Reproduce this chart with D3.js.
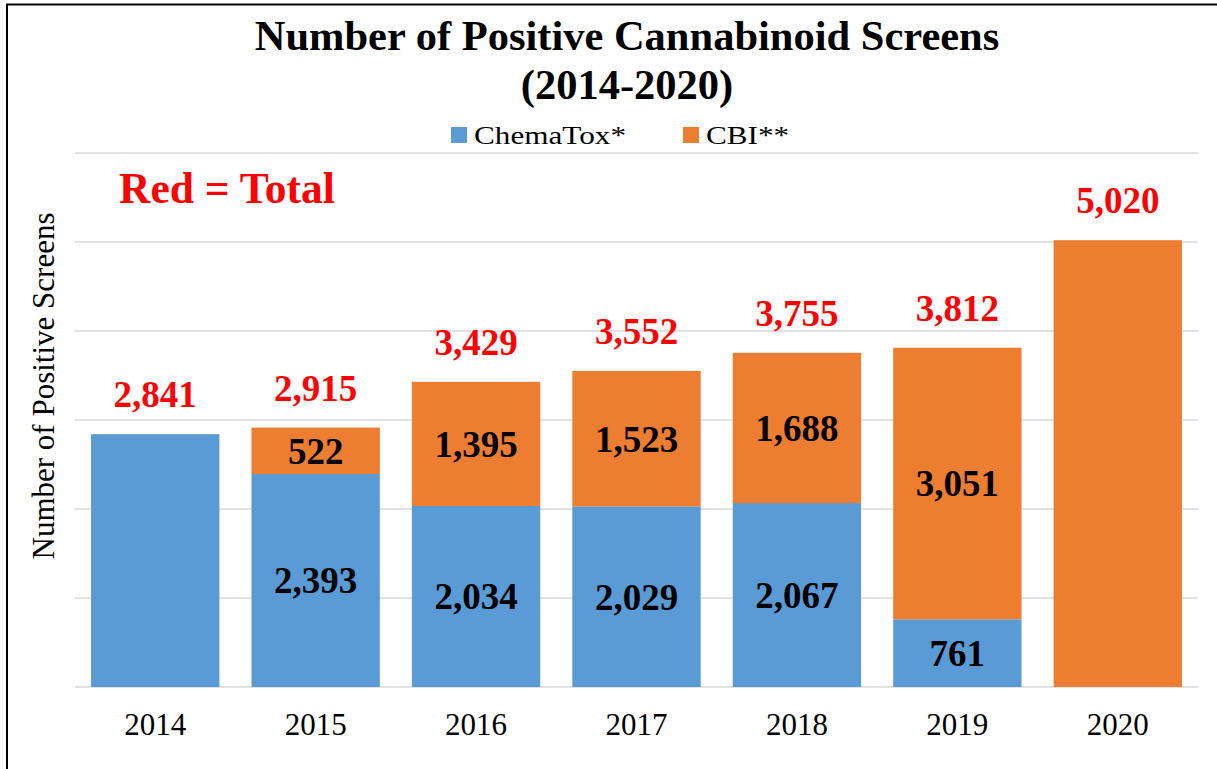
<!DOCTYPE html>
<html>
<head>
<meta charset="utf-8">
<script src="https://cdn.jsdelivr.net/npm/d3@7"></script>
<style>
  body { margin: 0; background: #fff; }
  svg text { font-family: "Liberation Serif", "Times New Roman", serif; }
</style>
</head>
<body>
<div id="chart"></div>
<script>
// Chart values
const years = ["2014", "2015", "2016", "2017", "2018", "2019", "2020"];
const chemaTox = [2841, 2393, 2034, 2029, 2067, 761, 0];
const cbi = [0, 522, 1395, 1523, 1688, 3051, 5020];
const totals = [2841, 2915, 3429, 3552, 3755, 3812, 5020];
const seriesNames = ["ChemaTox*", "CBI**"];
const yTicks = [0, 1000, 2000, 3000, 4000, 5000, 6000];

const width = 1217, height = 769;
const plot = { left: 75, right: 1198, top: 153, bottom: 687 };
const colors = ["#5B9BD5", "#ED7D31"];

const svg = d3.select("#chart").append("svg")
  .attr("width", width)
  .attr("height", height);

// outer frame (top + left only, like the cropped original)
svg.append("line").attr("x1", 6).attr("x2", width).attr("y1", 4.5).attr("y2", 4.5)
  .attr("stroke", "#000").attr("stroke-width", 2);
svg.append("line").attr("x1", 7).attr("x2", 7).attr("y1", 4).attr("y2", height)
  .attr("stroke", "#000").attr("stroke-width", 2);

const x = d3.scaleBand()
  .domain(years)
  .range([plot.left, plot.right])
  .paddingInner(0.2)
  .paddingOuter(0.1);

const y = d3.scaleLinear()
  .domain([0, 6000])
  .range([plot.bottom, plot.top]);

// gridlines
svg.append("g")
  .selectAll("line")
  .data(yTicks)
  .join("line")
  .attr("x1", plot.left)
  .attr("x2", plot.right)
  .attr("y1", d => y(d))
  .attr("y2", d => y(d))
  .attr("stroke", "#d9d9d9")
  .attr("stroke-width", 1.5);

// stacked data
const rows = years.map((yr, i) => ({ year: yr, chemaTox: chemaTox[i], cbi: cbi[i] }));
const stack = d3.stack().keys(["chemaTox", "cbi"]);
const layers = stack(rows);

const layerG = svg.append("g")
  .selectAll("g")
  .data(layers)
  .join("g")
  .attr("fill", (d, i) => colors[i]);

layerG.selectAll("rect")
  .data(d => d)
  .join("rect")
  .attr("x", d => x(d.data.year))
  .attr("width", x.bandwidth())
  .attr("y", d => y(d[1]))
  .attr("height", d => y(d[0]) - y(d[1]));

// segment labels (only where a bar has both parts)
layerG.selectAll("text")
  .data(d => d.filter(s => s.data.chemaTox > 0 && s.data.cbi > 0))
  .join("text")
  .attr("x", d => x(d.data.year) + x.bandwidth() / 2)
  .attr("y", d => y((d[0] + d[1]) / 2))
  .attr("dy", "0.35em")
  .attr("text-anchor", "middle")
  .attr("fill", "#000")
  .style("font-weight", "bold")
  .style("font-size", "37px")
  .text(d => d3.format(",")(d[1] - d[0]));

// red totals above bars
svg.append("g")
  .selectAll("text")
  .data(totals)
  .join("text")
  .attr("x", (d, i) => x(years[i]) + x.bandwidth() / 2)
  .attr("y", d => y(d) - 27)
  .attr("text-anchor", "middle")
  .attr("fill", "#ff0000")
  .style("font-weight", "bold")
  .style("font-size", "37px")
  .text(d => d3.format(",")(d));

// x axis labels
svg.append("g")
  .selectAll("text")
  .data(years)
  .join("text")
  .attr("x", d => x(d) + x.bandwidth() / 2)
  .attr("y", 735)
  .attr("text-anchor", "middle")
  .attr("fill", "#000")
  .style("font-size", "31px")
  .text(d => d);

// y axis title
svg.append("text")
  .attr("transform", "translate(54, 386) rotate(-90)")
  .attr("text-anchor", "middle")
  .attr("fill", "#000")
  .style("font-size", "31px")
  .text("Number of Positive Screens");

// chart title
const title = svg.append("text")
  .attr("text-anchor", "middle")
  .attr("fill", "#000")
  .style("font-weight", "bold")
  .style("font-size", "42.5px");
title.append("tspan").attr("x", 627).attr("y", 50).text("Number of Positive Cannabinoid Screens");
title.append("tspan").attr("x", 627).attr("y", 99).text("(2014-2020)");

// legend
const legendX = [451, 683];
const legend = svg.append("g")
  .selectAll("g")
  .data(seriesNames)
  .join("g")
  .attr("transform", (d, i) => `translate(${legendX[i]}, 127)`);
legend.append("rect")
  .attr("width", 16)
  .attr("height", 16)
  .attr("fill", (d, i) => colors[i]);
legend.append("text")
  .attr("transform", "translate(23, 17) scale(1.2, 1)")
  .attr("fill", "#000")
  .style("font-size", "26px")
  .text(d => d);

// note
svg.append("text")
  .attr("x", 119)
  .attr("y", 203)
  .attr("fill", "#ff0000")
  .style("font-weight", "bold")
  .style("font-size", "43.5px")
  .text("Red = Total");
</script>
</body>
</html>
